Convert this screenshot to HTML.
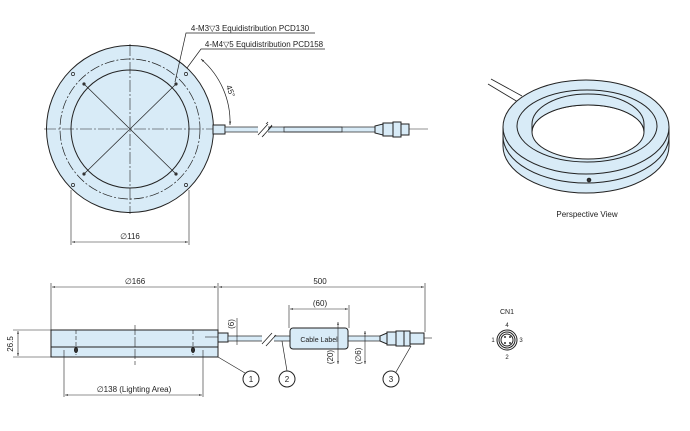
<!DOCTYPE html>
<html><head><meta charset="utf-8"><style>
html,body{margin:0;padding:0;background:#fff;}
svg{display:block;font-family:"Liberation Sans",sans-serif;}
</style></head><body>
<svg width="690" height="431" viewBox="0 0 690 431" xmlns="http://www.w3.org/2000/svg">
<defs>
<marker id="a" viewBox="0 0 10 10" refX="10" refY="5" markerWidth="5" markerHeight="5" orient="auto-start-reverse"><path d="M0,2 L10,5 L0,8z" fill="#333"/></marker>
</defs>
<g stroke="#222" fill="none" stroke-width="1">
<!-- TOP VIEW -->
<circle cx="130" cy="129" r="83.5" fill="#d8ebf7"/>
<circle cx="130" cy="129" r="70" stroke-dasharray="10,2,2,2" stroke-width="0.7"/>
<circle cx="130" cy="129" r="59"/>
<line x1="44" y1="129" x2="216" y2="129" stroke-dasharray="12,2,2,2" stroke-width="0.6"/>
<line x1="130" y1="44" x2="130" y2="214" stroke-dasharray="12,2,2,2" stroke-width="0.6"/>
<line x1="84" y1="84" x2="176" y2="174" stroke-width="0.7"/>
<line x1="176" y1="84" x2="84" y2="174" stroke-width="0.7"/>
<g fill="#333" stroke="none">
<circle cx="84" cy="84" r="1.6"/><circle cx="176" cy="84" r="1.6"/><circle cx="84" cy="174" r="1.6"/><circle cx="176" cy="174" r="1.6"/>
</g>
<g stroke-width="0.7"><circle cx="73" cy="74" r="1.6"/><circle cx="186" cy="74" r="1.6"/><circle cx="73" cy="185" r="1.6"/><circle cx="186" cy="185" r="1.6"/></g>
<!-- gland + cable -->
<rect x="213" y="125" width="12" height="9" fill="#d8ebf7"/>
<rect x="225" y="127" width="150" height="5" fill="#d8ebf7" stroke-width="0.7"/>
<rect x="284" y="127" width="58" height="5" stroke-width="0.7"/>
<path d="M258,133 L268,122 M263,136 L272,125" stroke-width="0.8"/>
<rect x="258" y="124" width="10" height="11" fill="#fff" stroke="none"/>
<path d="M258,135 L268,124 M262,137 L272,126" stroke-width="0.8"/>
<path d="M375,126 L383,124 L383,135 L375,133z" fill="#d8ebf7"/>
<rect x="383" y="123" width="10" height="13" fill="#d8ebf7"/>
<rect x="393" y="122" width="8" height="15" fill="#d8ebf7"/>
<rect x="401" y="124" width="8" height="11" fill="#d8ebf7"/>
<line x1="409" y1="129" x2="428" y2="129" stroke-width="0.6"/>
<!-- leaders -->
<path d="M175,82 L186,33 L315,33" stroke-width="0.7"/>
<path d="M187,68 L201,49 L325,49" stroke-width="0.7"/>
<path d="M201,59 A83,83 0 0 1 230,125" stroke-width="0.7" marker-start="url(#a)" marker-end="url(#a)"/>
<!-- dim 116 -->
<line x1="71" y1="190" x2="71" y2="245" stroke-width="0.6"/>
<line x1="189" y1="190" x2="189" y2="245" stroke-width="0.6"/>
<line x1="72" y1="242" x2="188" y2="242" stroke-width="0.6" marker-start="url(#a)" marker-end="url(#a)"/>

<!-- PERSPECTIVE -->
<path d="M488,84 L518,102 M491,79 L522,96" stroke-width="0.8"/>
<path d="M503,127 L503,146 A83,47 0 0 0 669,146 L669,127" fill="#d8ebf7"/>
<ellipse cx="586" cy="127" rx="83" ry="47" fill="#d8ebf7"/>
<path d="M503,136 A83,47 0 0 0 669,136"/>
<ellipse cx="587" cy="126" rx="70" ry="36"/>
<ellipse cx="588" cy="132" rx="56" ry="27" fill="#fff"/>
<path d="M532,132 A56,27 0 0 1 644,132 L644,124 A56,30 0 0 0 532,124z" fill="#d8ebf7"/>
<circle cx="589" cy="180" r="1.8" fill="#333"/>

<!-- SIDE VIEW -->
<rect x="51" y="330" width="167" height="27" fill="#d8ebf7"/>
<line x1="51" y1="347" x2="218" y2="347"/>
<line x1="135" y1="325" x2="135" y2="365" stroke-dasharray="10,2" stroke-width="0.6"/>
<line x1="76" y1="330" x2="76" y2="355" stroke-dasharray="4,2" stroke-width="0.6"/>
<line x1="193" y1="330" x2="193" y2="355" stroke-dasharray="4,2" stroke-width="0.6"/>
<ellipse cx="76" cy="350" rx="1.5" ry="2.5" fill="#333"/>
<ellipse cx="193" cy="350" rx="1.5" ry="2.5" fill="#333"/>
<line x1="205" y1="337" x2="218" y2="337" stroke-width="0.6"/>
<rect x="218" y="333" width="10" height="9" fill="#d8ebf7"/>
<rect x="228" y="336" width="62" height="5" fill="#d8ebf7" stroke-width="0.7"/>
<rect x="348" y="336" width="32" height="5" fill="#d8ebf7" stroke-width="0.7"/>
<rect x="262" y="330" width="12" height="16" fill="#fff" stroke="none"/>
<path d="M262,344 L272,333 M266,346 L276,335" stroke-width="0.8"/>
<rect x="290" y="328" width="58" height="21" rx="3" fill="#d8ebf7"/>
<path d="M380,336 L387,333 L387,344 L380,341z" fill="#d8ebf7"/>
<rect x="387" y="332" width="9" height="13" fill="#d8ebf7"/>
<rect x="396" y="331" width="8" height="15" fill="#d8ebf7"/>
<rect x="404" y="331" width="6" height="15" fill="#d8ebf7"/>
<rect x="410" y="333" width="14" height="11" fill="#d8ebf7"/>
<line x1="424" y1="338" x2="432" y2="338" stroke-width="0.6"/>
<!-- dims -->
<line x1="51" y1="283" x2="51" y2="330" stroke-width="0.6"/>
<line x1="218" y1="283" x2="218" y2="330" stroke-width="0.6"/>
<line x1="425" y1="283" x2="425" y2="332" stroke-width="0.6"/>
<line x1="52" y1="287" x2="217" y2="287" stroke-width="0.6" marker-start="url(#a)" marker-end="url(#a)"/>
<line x1="219" y1="287" x2="424" y2="287" stroke-width="0.6" marker-start="url(#a)" marker-end="url(#a)"/>
<line x1="13" y1="330" x2="51" y2="330" stroke-width="0.6"/>
<line x1="13" y1="357" x2="51" y2="357" stroke-width="0.6"/>
<line x1="18" y1="331" x2="18" y2="356" stroke-width="0.6" marker-start="url(#a)" marker-end="url(#a)"/>
<line x1="64" y1="350" x2="64" y2="397" stroke-width="0.6"/>
<line x1="203" y1="350" x2="203" y2="397" stroke-width="0.6"/>
<line x1="65" y1="395" x2="202" y2="395" stroke-width="0.6" marker-start="url(#a)" marker-end="url(#a)"/>
<line x1="289" y1="305" x2="289" y2="328" stroke-width="0.6"/>
<line x1="349" y1="305" x2="349" y2="328" stroke-width="0.6"/>
<line x1="290" y1="309" x2="348" y2="309" stroke-width="0.6" marker-start="url(#a)" marker-end="url(#a)"/>
<line x1="338" y1="322" x2="338" y2="364" stroke-width="0.6" marker-start="url(#a)" marker-end="url(#a)"/>
<line x1="365" y1="331" x2="365" y2="364" stroke-width="0.6" marker-start="url(#a)" marker-end="url(#a)"/>
<line x1="237" y1="318" x2="237" y2="345" stroke-width="0.6"/>
<!-- callouts -->
<path d="M218,357 L245,373" stroke-width="0.7"/>
<path d="M282,341 L287,371" stroke-width="0.7"/>
<path d="M411,346 L396,372" stroke-width="0.7"/>
<circle cx="251" cy="379" r="8" fill="#fff"/>
<circle cx="287" cy="379" r="8" fill="#fff"/>
<circle cx="391" cy="379" r="8" fill="#fff"/>
<!-- CN1 -->
<circle cx="507" cy="340" r="10"/>
<circle cx="507" cy="340" r="8"/>
<circle cx="507" cy="340" r="6"/>
<g fill="#333" stroke="none"><circle cx="505" cy="337" r="1"/><circle cx="510" cy="337" r="1"/><circle cx="505" cy="343" r="1"/><circle cx="510" cy="343" r="1"/></g>
</g>
<g fill="#222" font-size="8" text-anchor="middle">
<text x="250" y="31">4-M3▽3 Equidistribution PCD130</text>
<text x="264" y="47">4-M4▽5 Equidistribution PCD158</text>
<text x="228" y="92" transform="rotate(70 228 92)">45°</text>
<text x="130" y="239">∅116</text>
<text x="587" y="217">Perspective View</text>
<text x="135" y="284">∅166</text>
<text x="320" y="284">500</text>
<text x="320" y="306">(60)</text>
<text x="134" y="392">∅138 (Lighting Area)</text>
<text x="319" y="342" font-size="7">Cable Label</text>
<text x="13" y="344" transform="rotate(-90 13 344)">26.5</text>
<text x="234" y="324" transform="rotate(-90 234 324)">(6)</text>
<text x="333" y="357" transform="rotate(-90 333 357)">(20)</text>
<text x="361" y="356" transform="rotate(-90 361 356)">(∅6)</text>
<text x="251" y="382">1</text>
<text x="287" y="382">2</text>
<text x="391" y="382">3</text>
<text x="507" y="314" font-size="7">CN1</text>
<text x="507" y="327" font-size="6">4</text>
<text x="507" y="359" font-size="6">2</text>
<text x="493" y="342" font-size="6">1</text>
<text x="521" y="342" font-size="6">3</text>
</g>
</svg>
</body></html>
